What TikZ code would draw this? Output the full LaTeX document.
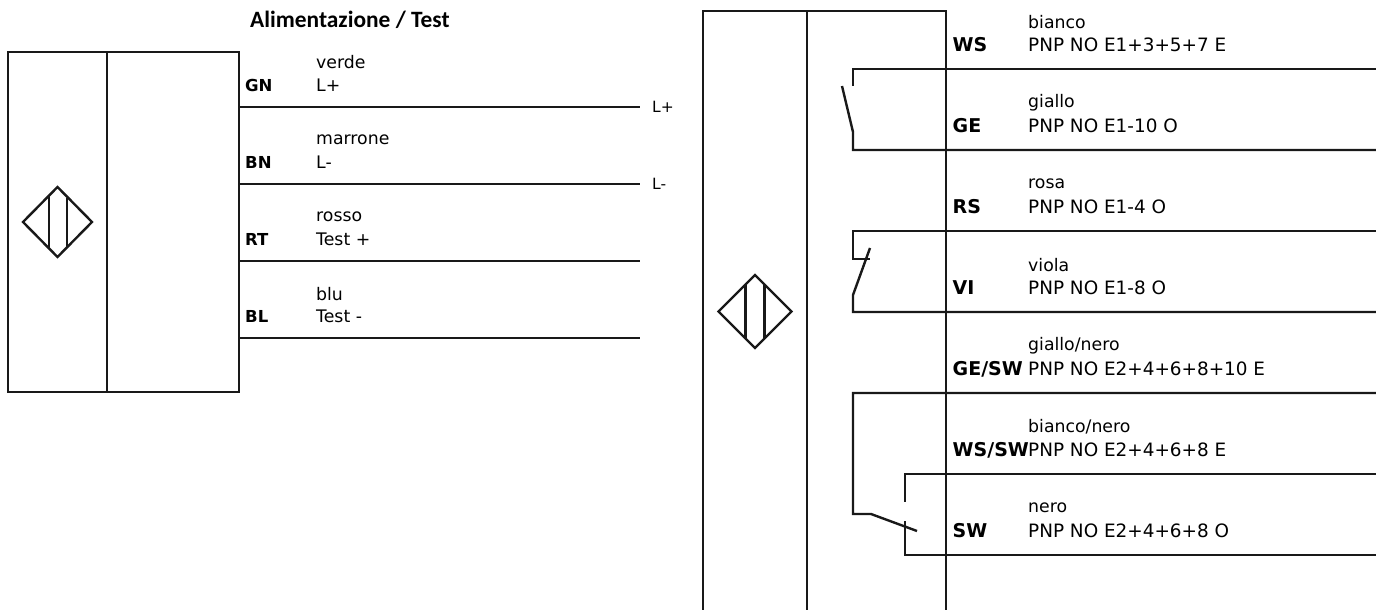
\documentclass[tikz,border=0pt]{standalone}
\usepackage{fontspec}
\setmainfont{DejaVu Sans}
\newfontfamily\titlefont{Carlito}
\tikzset{
	wire/.style={line width=2.4pt, color=black!90},
	colour/.style={inner sep=0pt, anchor=west, font=\fontsize{17.3}{17.3}\selectfont},
	function/.style={inner sep=0pt, anchor=west, font=\fontsize{18.4}{18.4}\selectfont},
	code/.style={inner sep=0pt, anchor=west, font=\fontsize{16.5}{16.5}\selectfont\bfseries},
	bigcode/.style={inner sep=0pt, anchor=west, font=\fontsize{19}{19}\selectfont\bfseries},
	wireend/.style={inner sep=0pt, anchor=west, font=\fontsize{15.5}{15.5}\selectfont},
}
\begin{document}
\begin{tikzpicture}[x=1pt, y=-1pt]
	%%%%% START %%%%%
	\useasboundingbox (0, 0) rectangle (1376, 610);

	\node[inner sep=0pt, anchor=west, font=\titlefont\fontsize{23.4}{23.4}\selectfont\bfseries] (title) at (250, 20) {Alimentazione / Test};

	% left sensor
	\draw[wire] (8, 52) rectangle (239, 392);
	\draw[wire] (107, 52) -- (107, 392);
	\draw[wire] (57.5, 187) -- (92, 222) -- (57.5, 257) -- (23, 222) -- cycle;
	\draw[wire] (49, 195.5) -- (49, 248.5);
	\draw[wire] (67, 197.5) -- (67, 246.5);

	\node[code] (gn) at (245, 85) {GN};
	\node[colour] (verde) at (316, 62) {verde};
	\node[colour] (lp) at (316, 85) {L+};
	\node[code] (bn) at (245, 162) {BN};
	\node[colour] (marrone) at (316, 140) {marrone};
	\node[colour] (lm) at (316, 162) {L-};
	\node[code] (rt) at (245, 239) {RT};
	\node[colour] (rosso) at (316, 217) {rosso};
	\node[colour] (tp) at (316, 239) {Test +};
	\node[code] (bl) at (245, 316) {BL};
	\node[colour] (blu) at (316, 294) {blu};
	\node[colour] (tm) at (316, 316) {Test -};

	\node[wireend] (lpend) at (652, 107) {L+};
	\node[wireend] (lmend) at (652, 184) {L-};

	\draw[wire] (239, 107) -- (640, 107);
	\draw[wire] (239, 184) -- (640, 184);
	\draw[wire] (239, 261) -- (640, 261);
	\draw[wire] (239, 338) -- (640, 338);

	% right sensor
	\draw[wire] (703, 610) -- (703, 11) -- (946, 11) -- (946, 610);
	\draw[wire] (807, 11) -- (807, 610);
	\draw[wire] (755, 275) -- (791.5, 311.5) -- (755, 348) -- (718.5, 311.5) -- cycle;
	\draw[wire] (745.5, 285) -- (745.5, 338);
	\draw[wire] (764.5, 285) -- (764.5, 338);

	\node[bigcode] (ws) at (952.5, 45) {WS};
	\node[colour] (bianco) at (1028, 22) {bianco};
	\node[function] (wsfn) at (1028, 45) {PNP NO E1+3+5+7 E};
	\node[bigcode] (ge) at (952.5, 126) {GE};
	\node[colour] (giallo) at (1028, 103) {giallo};
	\node[function] (gefn) at (1028, 126) {PNP NO E1-10 O};
	\node[bigcode] (rs) at (952.5, 207) {RS};
	\node[colour] (rosa) at (1028, 184) {rosa};
	\node[function] (rsfn) at (1028, 207) {PNP NO E1-4 O};
	\node[bigcode] (vi) at (952.5, 288) {VI};
	\node[colour] (viola) at (1028, 265) {viola};
	\node[function] (vifn) at (1028, 288) {PNP NO E1-8 O};
	\node[bigcode] (gesw) at (952.5, 369) {GE/SW};
	\node[colour] (giallonero) at (1028, 346) {giallo/nero};
	\node[function] (geswfn) at (1028, 369) {PNP NO E2+4+6+8+10 E};
	\node[bigcode] (wssw) at (952.5, 450) {WS/SW};
	\node[colour] (bianconero) at (1028, 427) {bianco/nero};
	\node[function] (wsswfn) at (1028, 450) {PNP NO E2+4+6+8 E};
	\node[bigcode] (sw) at (952.5, 531) {SW};
	\node[colour] (nero) at (1028, 508) {nero};
	\node[function] (swfn) at (1028, 531) {PNP NO E2+4+6+8 O};

	% switches
	\draw[wire] (1376, 69) -- (853, 69) -- (853, 86);
	\draw[wire] (842, 86) -- (853, 132) -- (853, 150) -- (1376, 150);

	\draw[wire] (1376, 231) -- (853, 231) -- (853, 259) -- (870, 259);
	\draw[wire] (870, 248) -- (853, 295) -- (853, 312) -- (1376, 312);

	\draw[wire] (1376, 393) -- (853, 393) -- (853, 514) -- (871, 514) -- (917, 531);
	\draw[wire] (1376, 474) -- (905, 474) -- (905, 502);
	\draw[wire] (905, 521) -- (905, 555) -- (1376, 555);
	%%%%% END %%%%%
\end{tikzpicture}
\end{document}
